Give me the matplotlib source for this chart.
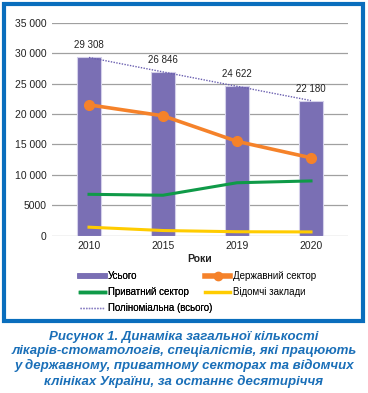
import matplotlib
matplotlib.use("Agg")
import matplotlib.pyplot as plt
import numpy as np
from matplotlib.lines import Line2D
from matplotlib.patches import Rectangle

years = ["2010", "2015", "2019", "2020"]
total = [29308, 26846, 24622, 22180]
state = [21500, 19700, 15500, 12800]
private = [6800, 6650, 8700, 9000]
dept = [1400, 850, 650, 620]
total_labels = ["29 308", "26 846", "24 622", "22 180"]
yticks = [0, 5000, 10000, 15000, 20000, 25000, 30000, 35000]
ytick_labels = ["0", "5000", "10 000", "15 000", "20 000", "25 000", "30 000", "35 000"]

plt.rcParams['font.family'] = ['Liberation Sans', 'DejaVu Sans']

fig = plt.figure(figsize=(3.68, 3.93), dpi=100)
ax = fig.add_axes([52/368, 1-235.7/393, 296/368, 213/393])
x = np.arange(len(years))

purple = '#7a6fb4'
ax.bar(x, total, width=0.33, color=purple, edgecolor='#d4d0ea', linewidth=0.8, zorder=2)
for xi, v, lab in zip(x, total, total_labels):
    ax.annotate(lab, (xi, v), xytext=(0, 5), textcoords='offset points',
                ha='center', va='bottom', fontsize=7, color='#222222')

coef = np.polyfit(x, total, 2)
xf = np.linspace(0, 3, 50)
ax.plot(xf, np.polyval(coef, xf), linestyle=(0, (1, 1)), color='#6a5fb0', lw=1.0, zorder=3)

ax.plot(x, state, color='#f5822a', lw=2.6, marker='o', ms=7, zorder=4)
ax.plot(x, private, color='#0f9a48', lw=2.2, zorder=4)
ax.plot(x, dept, color='#ffcc00', lw=2.2, zorder=4)

ax.set_xlim(-0.5, 3.5)
ax.set_ylim(0, 35000)
ax.set_yticks(yticks)
ax.set_yticklabels(ytick_labels, fontsize=7.5, color='#222222')
ax.set_xticks(x)
ax.set_xticklabels(years, fontsize=7.5, color='#222222')
ax.tick_params(length=0, pad=4)
ax.grid(axis='y', color='#a0a0a0', lw=0.9, zorder=0)
ax.set_axisbelow(True)
for s in ax.spines.values():
    s.set_visible(False)
ax.set_xlabel("Роки", fontsize=7.5, fontweight='bold', labelpad=2, color='#222222')

h_total = Line2D([], [], color=purple, lw=4)
h_priv = Line2D([], [], color='#0f9a48', lw=2.5)
h_poly = Line2D([], [], color='#8a80c4', lw=1.0, linestyle=(0, (1, 1)))
h_state = Line2D([], [], color='#f5822a', lw=4, marker='o', ms=6)
h_dept = Line2D([], [], color='#ffcc00', lw=2.5)

common = dict(loc='upper left', frameon=False, fontsize=7, handlelength=2.6,
              labelspacing=0.62, handletextpad=0.25, borderpad=0, borderaxespad=0)
leg1 = fig.legend([h_total, h_priv, h_poly], ["Усього", "Приватний сектор", "Поліноміальна (всього)"],
                  bbox_to_anchor=(80/368, 1-271/393), **common)
fig.add_artist(leg1)
fig.legend([h_state, h_dept], ["Державний сектор", "Відомчі заклади"],
           bbox_to_anchor=(205/368, 1-271/393), **common)

fig.patches.append(Rectangle((4/368, 1-321/393), 359/368, 317/393, transform=fig.transFigure,
                             fill=False, edgecolor='#0a6ebd', lw=3))

caption = ("Рисунок 1. Динаміка загальної кількості\n"
           "лікарів-стоматологів, спеціалістів, які працюють\n"
           "у державному, приватному секторах та відомчих\n"
           "клініках України, за останнє десятиріччя")
fig.text(0.5, 1-330.5/393, caption, ha='center', va='top', fontsize=9.5,
         fontweight='bold', fontstyle='italic', color='#1a6fb8', linespacing=1.25)

fig.savefig("out.png", dpi=100)
